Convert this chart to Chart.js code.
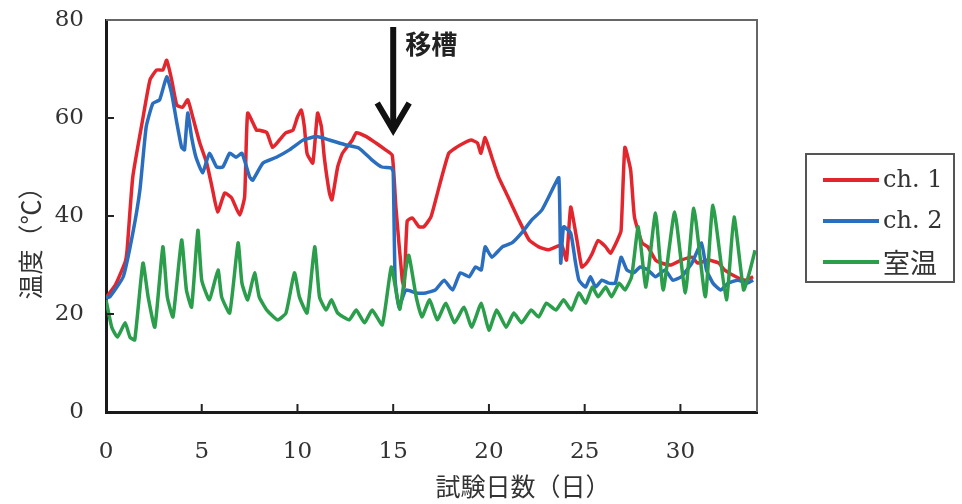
<!DOCTYPE html>
<html>
<head>
<meta charset="utf-8">
<script src="https://cdn.jsdelivr.net/npm/chart.js@4.4.1/dist/chart.umd.min.js"></script>
<style>
  body { margin: 0; background: #fff; }
  #wrap { position: relative; width: 962px; height: 504px; }
  #legend {
    position: absolute; left: 805px; top: 153px; width: 150px; height: 130px;
    border: 2px solid #555; box-sizing: border-box; padding-top: 4px;
  }
  .row { display: flex; align-items: center; height: 41px; line-height: 41px; }
  .swatch { width: 56px; height: 4px; margin-left: 16px; margin-right: 4px; }
  .lbl { font-family: "DejaVu Serif", serif; font-size: 24px; color: #333; }
  .lbl.jp { font-family: "Noto Sans CJK JP", sans-serif; font-size: 27px; line-height: 41px; }
</style>
</head>
<body>
<div id="wrap">
  <canvas id="tempChart" width="962" height="504"></canvas>
  <div id="legend"></div>
</div>
<script>
// ch. 1
const ch1Days = [0, 0.5, 1.0, 1.1, 1.4, 1.93, 2.3, 2.65, 2.97, 3.17, 3.43, 3.7, 4.0, 4.27, 4.53, 4.9, 5.26, 5.57, 5.83, 6.2, 6.56, 6.98, 7.24, 7.4, 7.86, 8.0, 8.4, 8.7, 9.06, 9.4, 9.76, 10.0, 10.2, 10.36, 10.5, 10.8, 11.05, 11.25, 11.4, 11.67, 11.8, 12.1, 12.35, 12.87, 13.07, 13.6, 14.1, 14.6, 14.95, 15.14, 15.47, 15.57, 15.73, 16.0, 16.35, 16.6, 16.97, 17.4, 17.9, 18.3, 18.7, 19.06, 19.4, 19.58, 19.8, 20.15, 20.5, 21.0, 21.56, 22.1, 22.6, 23.1, 23.5, 23.8, 24.05, 24.27, 24.6, 24.85, 25.1, 25.4, 25.7, 26.1, 26.35, 26.7, 26.9, 27.1, 27.4, 27.6, 28.0, 28.3, 28.7, 29.0, 29.5, 30.05, 30.6, 30.9, 31.45, 32.0, 32.3, 32.9, 33.4, 33.8];
const ch1Temps = [23.3, 26, 30.6, 33, 48, 60, 67.8, 69.8, 69.8, 71.8, 67.8, 62.6, 62.2, 63.7, 60.2, 54.9, 50.8, 45.3, 40.8, 44.7, 43.7, 40.2, 43.9, 61, 57.5, 57.5, 57, 54, 55.5, 57, 57.5, 60.2, 61.6, 58.2, 52.8, 50.8, 61, 58.2, 52, 44.7, 43.3, 50, 52.8, 55.5, 57, 56.2, 54.9, 53.5, 52.4, 41.8, 27, 25.5, 39, 39.6, 37.8, 37.8, 39.8, 46, 52.8, 54, 54.9, 55.5, 54.9, 52.8, 56, 52, 48, 43.9, 39.2, 35.1, 33.7, 33.1, 33.7, 34.1, 31, 41.8, 35, 29.6, 30.4, 32.4, 35, 33.7, 32.4, 35, 37, 54, 49.4, 39.8, 34.5, 33.7, 31, 30.4, 30, 31, 31.6, 30.4, 31, 30.4, 29, 27.6, 26.9, 27.6];

// ch. 2
const ch2Days = [0, 0.2, 0.9, 1.4, 1.77, 2.1, 2.45, 2.8, 3.17, 3.43, 3.7, 3.95, 4.1, 4.27, 4.47, 4.7, 5.05, 5.4, 5.78, 6.1, 6.46, 6.8, 7.1, 7.5, 7.66, 8.2, 8.9, 9.58, 10.3, 11.0, 11.67, 12.55, 13.2, 13.9, 14.4, 14.9, 15.0, 15.1, 15.3, 15.66, 16.2, 16.7, 17.2, 17.66, 18.1, 18.5, 18.96, 19.3, 19.6, 19.8, 20.15, 20.7, 21.2, 21.7, 22.24, 22.76, 23.3, 23.65, 23.75, 23.9, 24.27, 24.5, 24.7, 25.05, 25.3, 25.57, 25.9, 26.25, 26.6, 26.9, 27.2, 27.55, 27.9, 28.3, 28.7, 29.2, 29.6, 30.05, 30.6, 31.1, 31.36, 31.7, 32.1, 32.5, 33.0, 33.5, 33.8];
const ch2Temps = [23.3, 23.5, 27.6, 36.5, 45.3, 58.2, 63, 63.7, 68.4, 65, 59, 54, 53.5, 61, 56.1, 52, 48.8, 52.8, 50, 50, 52.8, 52, 52.8, 48, 47.3, 50.8, 52, 53.5, 55.5, 56.2, 55.5, 54.5, 53.9, 51.4, 50, 49.8, 49, 27, 21.4, 24.9, 24.3, 24.3, 24.9, 26.9, 24.9, 28.4, 27.6, 29.6, 29, 33.7, 31.6, 33.7, 34.5, 36.5, 39.2, 41.2, 45.3, 47.8, 30.4, 37.8, 36.5, 31, 26.9, 25.5, 27.6, 25.5, 26.9, 26.3, 26.3, 31.6, 29, 28.4, 29.6, 29, 27.6, 29, 26.9, 27.6, 30.4, 34.5, 29, 26.3, 24.9, 26.3, 26.9, 26.3, 26.9];

// 室温
const roomDays = [0, 0.3, 0.6, 1.0, 1.25, 1.5, 1.93, 2.2, 2.55, 2.97, 3.2, 3.5, 3.95, 4.2, 4.47, 4.8, 5.0, 5.4, 5.85, 6.04, 6.46, 6.9, 7.1, 7.4, 7.76, 8.0, 8.4, 8.96, 9.4, 9.84, 10.1, 10.5, 10.9, 11.15, 11.5, 11.77, 12.1, 12.7, 13.07, 13.5, 13.9, 14.43, 14.9, 15.2, 15.35, 15.8, 16.2, 16.5, 16.9, 17.3, 17.75, 18.2, 18.7, 19.1, 19.6, 20.0, 20.4, 20.9, 21.3, 21.7, 22.2, 22.6, 23.0, 23.5, 23.9, 24.3, 24.7, 25.05, 25.4, 25.7, 26.1, 26.4, 26.8, 27.1, 27.45, 27.8, 28.2, 28.7, 29.1, 29.7, 30.26, 30.7, 31.3, 31.7, 32.4, 32.8, 33.3, 33.6, 33.9];
const roomTemps = [22.9, 17.3, 15.3, 18.2, 15.3, 14.7, 30.4, 23.5, 17.3, 33.7, 23.5, 19.4, 35.1, 24.9, 21.4, 37.1, 26.9, 22.9, 29, 23.5, 20.2, 34.5, 26.3, 22.9, 28.4, 23.5, 20.8, 18.8, 20.2, 28.4, 23.5, 20.2, 33.7, 23.5, 20.8, 22.9, 20.2, 18.8, 20.8, 18.2, 20.8, 17.8, 29.6, 23.5, 21, 32, 23.5, 19.4, 22.9, 18.8, 22.2, 18.2, 21.4, 17.3, 22.2, 16.7, 20.8, 17.3, 20.2, 18.2, 20.8, 19.4, 22.2, 20.8, 22.9, 20.8, 24.3, 22.2, 25.5, 23.5, 25.5, 23.5, 26.3, 24.9, 27.6, 37.8, 25.5, 40.6, 24.9, 40.8, 24.3, 41.6, 23.5, 42.2, 22.9, 39.8, 24.9, 28.4, 33];

const seriesNames = ['ch. 1', 'ch. 2', '室温'];
const seriesColors = ['#e3262d', '#2a6ebf', '#2b9e4c'];
const yTicks = [0, 20, 40, 60, 80];
const xTicks = [0, 5, 10, 15, 20, 25, 30];

const toPoints = (xs, ys) => xs.map((x, i) => ({ x: x, y: ys[i] }));

// frame, inward ticks, titles and the transfer arrow
const decorations = {
    id: 'decorations',
    afterDraw(chart) {
        const { ctx, chartArea: a, scales } = chart;
        const xs = scales.x, ys = scales.y;
        ctx.save();
        ctx.strokeStyle = '#666';
        ctx.lineWidth = 2;
        ctx.beginPath();
        ctx.moveTo(a.left, a.top);
        ctx.lineTo(a.right, a.top);
        ctx.lineTo(a.right, a.bottom);
        ctx.stroke();

        ctx.strokeStyle = '#222';
        ctx.lineWidth = 2;
        yTicks.slice(1, -1).forEach(v => {
            const y = ys.getPixelForValue(v);
            ctx.beginPath();
            ctx.moveTo(a.left, y);
            ctx.lineTo(a.left + 8, y);
            ctx.stroke();
        });
        xTicks.slice(1).forEach(v => {
            const x = xs.getPixelForValue(v);
            ctx.beginPath();
            ctx.moveTo(x, a.bottom);
            ctx.lineTo(x, a.bottom - 8);
            ctx.stroke();
        });

        ctx.fillStyle = '#333';
        ctx.font = '25px "Noto Sans CJK JP"';
        ctx.textAlign = 'center';
        ctx.textBaseline = 'middle';
        ctx.fillText('試験日数（日）', 523, 486);
        ctx.save();
        ctx.translate(30, 237);
        ctx.rotate(-Math.PI / 2);
        ctx.fillText('温度（℃）', 0, 0);
        ctx.restore();

        // arrow at the day of transfer
        const ax = xs.getPixelForValue(15);
        ctx.strokeStyle = '#111';
        ctx.lineWidth = 6;
        ctx.beginPath();
        ctx.moveTo(ax, 27);
        ctx.lineTo(ax, 128);
        ctx.stroke();
        ctx.beginPath();
        ctx.moveTo(ax - 16, 103);
        ctx.lineTo(ax, 130);
        ctx.lineTo(ax + 16, 103);
        ctx.stroke();
        ctx.fillStyle = '#222';
        ctx.font = 'bold 26px "Noto Sans CJK JP"';
        ctx.textAlign = 'left';
        ctx.fillText('移槽', ax + 12, 44);
        ctx.restore();
    }
};

const chart = new Chart(document.getElementById('tempChart'), {
    type: 'line',
    data: {
        datasets: [
            { label: seriesNames[0], data: toPoints(ch1Days, ch1Temps), borderColor: seriesColors[0], order: 2 },
            { label: seriesNames[1], data: toPoints(ch2Days, ch2Temps), borderColor: seriesColors[1], order: 1 },
            { label: seriesNames[2], data: toPoints(roomDays, roomTemps), borderColor: seriesColors[2], order: 0 }
        ]
    },
    options: {
        responsive: false,
        animation: false,
        parsing: false,
        elements: {
            line: { borderWidth: 3.5, tension: 0.15 },
            point: { radius: 0 }
        },
        layout: { padding: { top: 20, right: 205, bottom: 0, left: 0 } },
        plugins: { legend: { display: false }, tooltip: { enabled: false } },
        scales: {
            x: {
                type: 'linear',
                min: 0,
                max: 34,
                afterBuildTicks: s => { s.ticks = xTicks.map(v => ({ value: v })); },
                afterFit: s => { s.height = 92; s.paddingLeft = 0; s.paddingRight = 0; },
                grid: { display: false, drawTicks: false },
                border: { display: true, color: '#1a1a1a', width: 3 },
                ticks: {
                    padding: 26,
                    color: '#333',
                    font: { family: 'DejaVu Serif', size: 23 }
                }
            },
            y: {
                min: 0,
                max: 80,
                afterBuildTicks: s => { s.ticks = yTicks.map(v => ({ value: v })); },
                afterFit: s => { s.width = 106; s.paddingTop = 0; s.paddingBottom = 0; },
                grid: { display: false, drawTicks: false },
                border: { display: true, color: '#1a1a1a', width: 3 },
                ticks: {
                    padding: 22,
                    color: '#333',
                    font: { family: 'DejaVu Serif', size: 23 }
                }
            }
        }
    },
    plugins: [decorations]
});

// legend box on the right
const legendEl = document.getElementById('legend');
seriesNames.forEach((name, i) => {
    const row = document.createElement('div');
    row.className = 'row';
    const sw = document.createElement('span');
    sw.className = 'swatch';
    sw.style.background = seriesColors[i];
    const lbl = document.createElement('span');
    lbl.className = i === 2 ? 'lbl jp' : 'lbl';
    lbl.textContent = name;
    row.appendChild(sw);
    row.appendChild(lbl);
    legendEl.appendChild(row);
});
</script>
</body>
</html>
